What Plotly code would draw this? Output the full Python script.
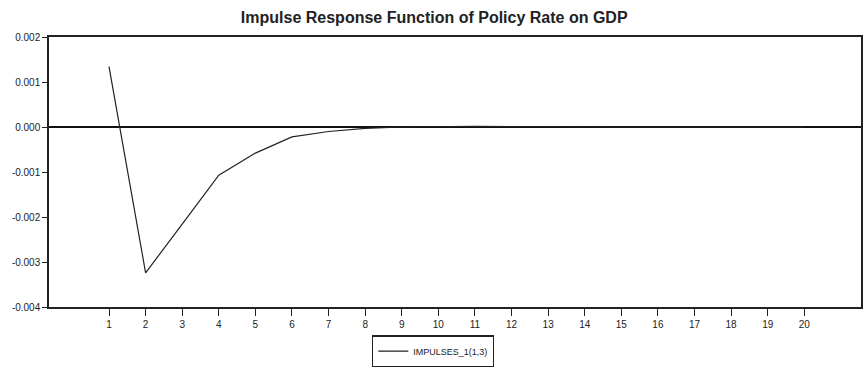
import plotly.graph_objects as go

periods = list(range(1, 21))
impulses = [0.00134, -0.00324, -0.00216, -0.00107, -0.00058, -0.00022, -0.00010,
            -0.00003, 0.0, 0.00001, 0.000012, 0.00001, 0.000003, 0.0, 0.0,
            0.0, 0.0, 0.0, 0.0, 0.0]
y_tick_vals = [0.002, 0.001, 0.0, -0.001, -0.002, -0.003, -0.004]
y_tick_text = ["0.002", "0.001", "0.000", "-0.001", "-0.002", "-0.003", "-0.004"]
x_tick_text = [str(p) for p in periods]

fig = go.Figure()
fig.add_trace(go.Scatter(
    x=periods, y=impulses, mode="lines", name="IMPULSES_1(1,3)",
    line=dict(color="#222222", width=1.2),
))

fig.update_layout(
    width=865, height=369,
    margin=dict(l=49, r=4, t=37, b=62, autoexpand=False),
    paper_bgcolor="white", plot_bgcolor="white",
    title=dict(text="<b>Impulse Response Function of Policy Rate on GDP</b>",
               x=0.502, xanchor="center", y=0.953, yanchor="middle",
               font=dict(family="Liberation Sans, Arial, sans-serif", size=16, color="#222222")),
    font=dict(family="Liberation Sans, Arial, sans-serif", size=10, color="#222222"),
    showlegend=True,
    legend=dict(x=0.473, xanchor="center", y=-0.105, yanchor="top",
                bordercolor="#222222", borderwidth=1.2, bgcolor="white",
                font=dict(size=9), itemwidth=30),
)
fig.update_xaxes(
    range=[-0.64, 21.55], tickvals=periods, ticktext=x_tick_text,
    showgrid=False, zeroline=False, automargin=False,
    showline=True, mirror=True, linecolor="#222222", linewidth=1.5,
    ticks="outside", ticklen=7, tickcolor="#222222", tickwidth=1,
)
fig.update_yaxes(
    range=[-0.004, 0.002], tickvals=y_tick_vals, ticktext=y_tick_text,
    showgrid=False, zeroline=True, zerolinecolor="#111111", zerolinewidth=1.5,
    showline=True, mirror=True, linecolor="#222222", linewidth=1.5, automargin=False,
    ticks="outside", ticklen=5, tickcolor="#222222", tickwidth=1,
)

fig.write_html("out.html")
